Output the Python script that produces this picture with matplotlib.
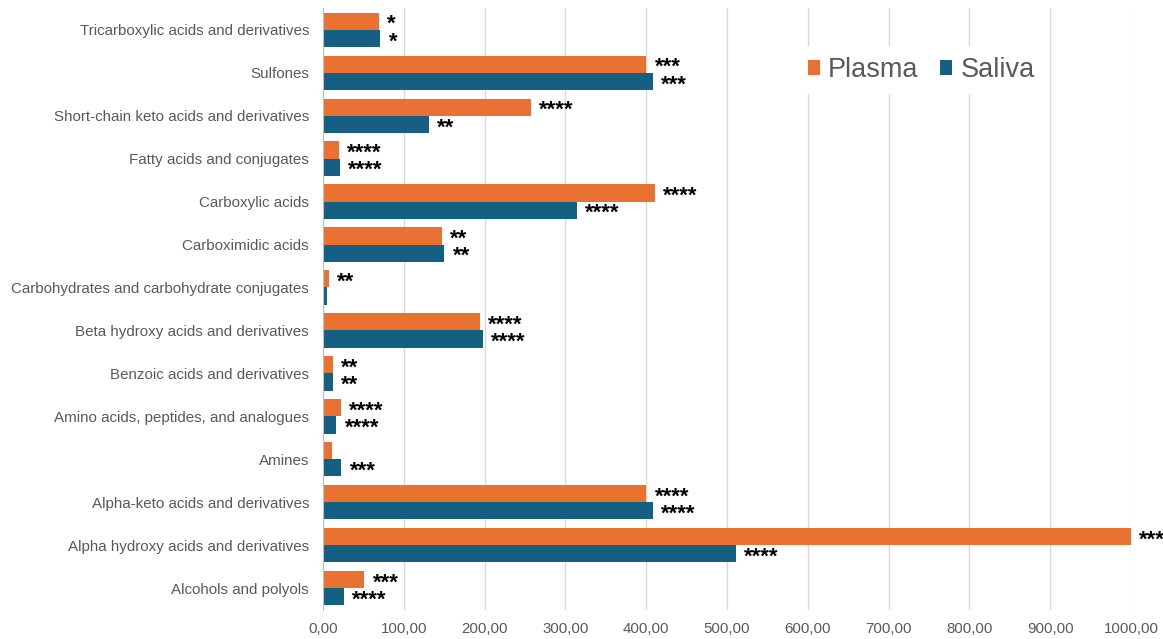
import matplotlib
matplotlib.use("Agg")
import matplotlib.pyplot as plt
import numpy as np
from matplotlib.patches import Patch
from matplotlib.ticker import FuncFormatter

plt.rcParams["font.family"] = ["Liberation Sans", "DejaVu Sans"]

# categories listed bottom to top (as on the y axis)
categories = [
    "Alcohols and polyols",
    "Alpha hydroxy acids and derivatives",
    "Alpha-keto acids and derivatives",
    "Amines",
    "Amino acids, peptides, and analogues",
    "Benzoic acids and derivatives",
    "Beta hydroxy acids and derivatives",
    "Carbohydrates and carbohydrate conjugates",
    "Carboximidic acids",
    "Carboxylic acids",
    "Fatty acids and conjugates",
    "Short-chain keto acids and derivatives",
    "Sulfones",
    "Tricarboxylic acids and derivatives",
]
plasma = [51, 1000, 400, 10.7, 22, 12, 194, 7, 147, 411, 20, 257, 400, 69.5]
saliva = [25.7, 511, 408, 22.7, 16.5, 12, 198, 4.6, 150, 314, 21, 131, 408, 71]
plasma_sig = ["***", "***", "****", "", "****", "**", "****", "**", "**", "****",
              "****", "****", "***", "*"]
saliva_sig = ["****", "****", "****", "***", "****", "**", "****", "", "**", "****",
              "****", "**", "***", "*"]

C_PLASMA, C_SALIVA = "#E97132", "#156082"
GRAY = "#595959"

fig = plt.figure(figsize=(11.63, 6.39), dpi=100)
ax = fig.add_axes([0.2777, 0.046, 0.6948, 0.941])

y = np.arange(len(categories))
h = 0.4
ax.barh(y + h / 2, plasma, height=h, color=C_PLASMA, label="Plasma", zorder=3)
ax.barh(y - h / 2, saliva, height=h, color=C_SALIVA, label="Saliva", zorder=3)


def stars(ypos, vals, sigs):
    for yy, v, s in zip(ypos, vals, sigs):
        if s:
            ax.annotate(s, (v, yy), xytext=(6, -2.5), textcoords="offset points",
                        va="center", ha="left", fontsize=16, fontweight="bold",
                        color="black", annotation_clip=False)


stars(y + h / 2, plasma, plasma_sig)
stars(y - h / 2, saliva, saliva_sig)

ax.set_xlim(0, 1000)
ax.set_ylim(-0.5, len(categories) - 0.5)
ax.set_yticks(y)
ax.set_yticklabels(categories, fontsize=10.9, color=GRAY)
ax.set_xticks(np.arange(0, 1001, 100))
ax.xaxis.set_major_formatter(FuncFormatter(lambda v, p: f"{v:.2f}".replace(".", ",")))
ax.tick_params(axis="x", labelsize=10.8, labelcolor=GRAY, length=0, pad=9)
ax.tick_params(axis="y", length=0, pad=10)
ax.grid(axis="x", color="#d9d9d9", lw=1, zorder=0)
for side in ["top", "right", "bottom"]:
    ax.spines[side].set_visible(False)
ax.spines["left"].set_color("#bfbfbf")
ax.spines["left"].set_zorder(4)

handles = [Patch(fc=C_PLASMA, label="Plasma"), Patch(fc=C_SALIVA, label="Saliva")]
leg = fig.legend(handles=handles, loc="center", bbox_to_anchor=(0.792, 0.89), ncol=2,
                 fontsize=19.5, frameon=True, facecolor="white", edgecolor="none",
                 framealpha=1, handlelength=0.45, handleheight=0.45,
                 handletextpad=0.3, columnspacing=0.8, borderpad=0.4)
for t in leg.get_texts():
    t.set_color(GRAY)

fig.savefig("out.png", dpi=100, facecolor="white")
